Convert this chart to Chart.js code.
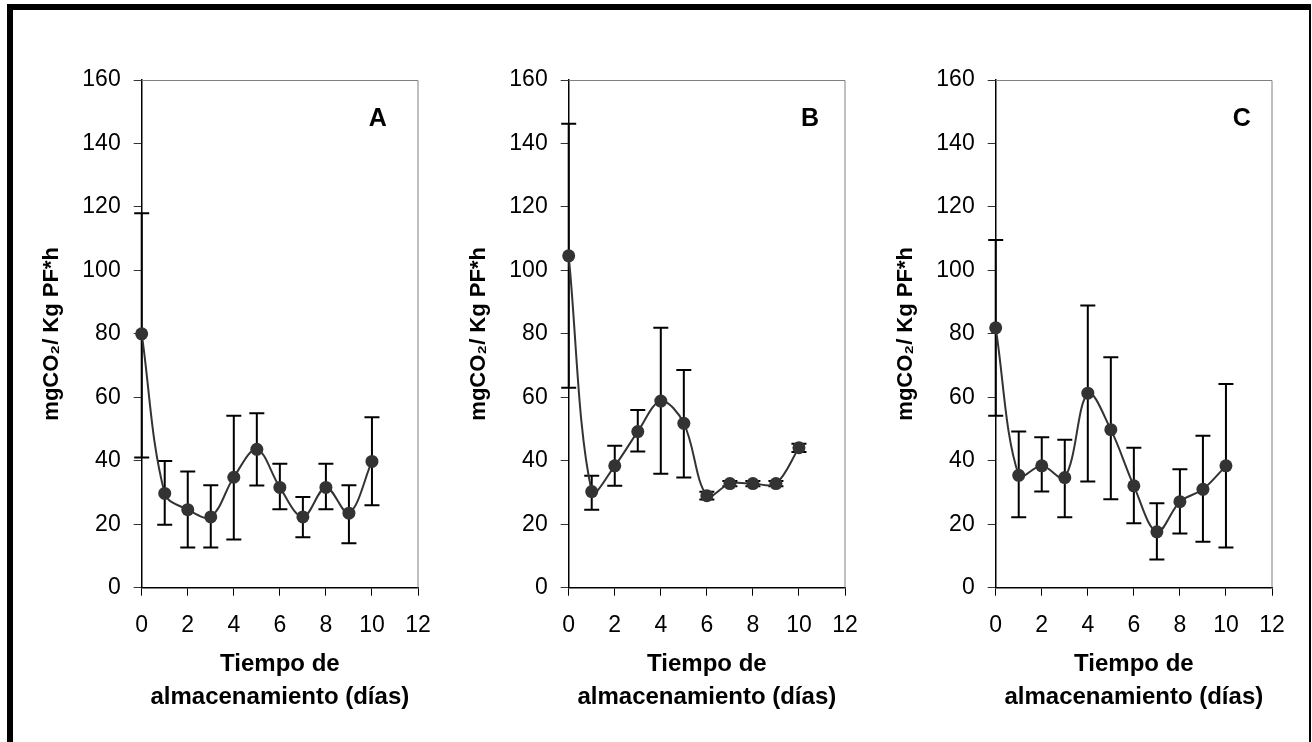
<!DOCTYPE html>
<html>
<head>
<meta charset="utf-8">
<script src="https://cdn.jsdelivr.net/npm/chart.js@4.4.0/dist/chart.umd.min.js"></script>
<style>
  body { margin: 0; background: #fff; }
  #wrap { position: relative; width: 1312px; height: 742px; overflow: hidden; background: #fff; }
  #frame {
    position: absolute; left: 7px; top: 4px; width: 1296px; height: 760px;
    border-left: 6px solid #000; border-top: 6px solid #000; border-right: 2px solid #000;
  }
  canvas { position: absolute; top: 0; }
</style>
</head>
<body>
<div id="wrap">
  <div id="frame"></div>
  <canvas id="chartA" width="440" height="742" style="left:20px"></canvas>
  <canvas id="chartB" width="440" height="742" style="left:447px"></canvas>
  <canvas id="chartC" width="440" height="742" style="left:874px"></canvas>
</div>
<script>
// storage days
const days = [0, 1, 2, 3, 4, 5, 6, 7, 8, 9, 10];

// A
const meanA = [80, 29.7, 24.6, 22.3, 34.8, 43.6, 31.6, 22.3, 31.6, 23.5, 39.8];
const highA = [118, 39.9, 36.6, 32.3, 54.2, 55, 39.1, 28.6, 39.1, 32.3, 53.7];
const lowA = [41, 19.8, 12.7, 12.7, 15.2, 32.2, 24.7, 15.9, 24.7, 14, 26];

// B
const meanB = [104.6, 30.3, 38.4, 49.2, 58.8, 51.8, 29, 32.8, 32.8, 32.8, 44.1];
const highB = [146.2, 35.3, 44.7, 56, 81.9, 68.6, 30.2, 33.6, 33.6, 33.6, 45.4];
const lowB = [63, 24.6, 32.1, 42.9, 35.9, 34.7, 27.8, 32, 32, 32, 42.8];

// C
const meanC = [81.9, 35.4, 38.4, 34.7, 61.3, 49.8, 32.1, 17.6, 27.1, 31, 38.4];
const highC = [109.6, 49.2, 47.4, 46.6, 88.9, 72.6, 44.1, 26.6, 37.3, 47.9, 64.2];
const lowC = [54.2, 22.2, 30.3, 22.2, 33.5, 27.9, 20.3, 8.9, 17.1, 14.5, 12.7];

const xTicks = [0, 2, 4, 6, 8, 10, 12];
const yTitle = "mgCO\u2082/ Kg PF*h";
const xTitle = ["Tiempo de", "almacenamiento (días)"];

// error bars drawn under the points
const errorBars = {
  id: "errorBars",
  beforeDatasetsDraw(chart, args, opts) {
    const { ctx, scales } = chart;
    ctx.save();
    ctx.strokeStyle = "#000";
    ctx.lineWidth = 2;
    opts.x.forEach((d, i) => {
      const px = scales.x.getPixelForValue(d);
      const yHi = scales.y.getPixelForValue(opts.high[i]);
      const yLo = scales.y.getPixelForValue(opts.low[i]);
      ctx.beginPath();
      ctx.moveTo(px, yHi);
      ctx.lineTo(px, yLo);
      ctx.moveTo(px - 7.5, yHi);
      ctx.lineTo(px + 7.5, yHi);
      ctx.moveTo(px - 7.5, yLo);
      ctx.lineTo(px + 7.5, yLo);
      ctx.stroke();
    });
    ctx.restore();
  },
};

// grey top/right frame of the plot area + panel letter
const plotFrame = {
  id: "plotFrame",
  afterDraw(chart, args, opts) {
    const { ctx, chartArea, scales } = chart;
    ctx.save();
    ctx.strokeStyle = "#808080";
    ctx.lineWidth = 1;
    ctx.beginPath();
    ctx.moveTo(chartArea.left, chartArea.top + 0.5);
    ctx.lineTo(chartArea.right, chartArea.top + 0.5);
    ctx.lineTo(chartArea.right, chartArea.bottom);
    ctx.stroke();
    ctx.fillStyle = "#000";
    ctx.font = "bold 25px 'Liberation Sans', Arial, sans-serif";
    ctx.textAlign = "center";
    ctx.textBaseline = "middle";
    ctx.fillText(opts.tag, scales.x.getPixelForValue(opts.tagX), scales.y.getPixelForValue(opts.tagY));
    ctx.restore();
  },
};

function makePanel(id, mean, high, low, tag, tagX) {
  const ctx = document.getElementById(id).getContext("2d");
  new Chart(ctx, {
    type: "line",
    data: {
      datasets: [
        {
          data: days.map((d, i) => ({ x: d, y: mean[i] })),
          borderColor: "#333",
          borderWidth: 2,
          backgroundColor: "#333",
          pointRadius: 6.5,
          pointBackgroundColor: "#333",
          pointBorderColor: "#333",
          pointBorderWidth: 0,
          tension: 0.35,
          clip: false,
        },
      ],
    },
    options: {
      responsive: false,
      animation: false,
      devicePixelRatio: 1,
      layout: {
        padding: { top: 80, right: 42, bottom: 14.3, left: 0 },
      },
      plugins: {
        legend: { display: false },
        tooltip: { enabled: false },
        errorBars: { x: days, high: high, low: low },
        plotFrame: { tag: tag, tagX: tagX, tagY: 147.7 },
      },
      scales: {
        x: {
          type: "linear",
          min: 0,
          max: 12,
          afterBuildTicks: (s) => {
            s.ticks = xTicks.map((v) => ({ value: v }));
          },
          afterFit: (s) => {
            s.height = 140;
          },
          border: { display: true, color: "#000", width: 1.5 },
          grid: { drawOnChartArea: false, drawTicks: true, tickLength: 8, color: "#000" },
          ticks: {
            color: "#000",
            padding: 16,
            maxRotation: 0,
            font: { family: "'Liberation Sans', Arial, sans-serif", size: 23 },
          },
          title: {
            display: true,
            text: xTitle,
            color: "#000",
            padding: { top: 0, bottom: 14 },
            font: { family: "'Liberation Sans', Arial, sans-serif", size: 24, weight: "bold", lineHeight: 1.36 },
          },
        },
        y: {
          min: 0,
          max: 160,
          afterFit: (s) => {
            s.width = 121.7;
          },
          border: { display: true, color: "#000", width: 1.5 },
          grid: { drawOnChartArea: false, drawTicks: true, tickLength: 8, color: "#333" },
          ticks: {
            stepSize: 20,
            color: "#000",
            padding: 13,
            font: { family: "'Liberation Sans', Arial, sans-serif", size: 23 },
          },
          title: {
            display: true,
            text: yTitle,
            color: "#000",
            padding: { top: 18.5, bottom: 0 },
            font: { family: "'Liberation Sans', Arial, sans-serif", size: 22, weight: "bold" },
          },
        },
      },
    },
    plugins: [errorBars, plotFrame],
  });
}

makePanel("chartA", meanA, highA, lowA, "A", 10.25);
makePanel("chartB", meanB, highB, lowB, "B", 10.48);
makePanel("chartC", meanC, highC, lowC, "C", 10.69);
</script>
</body>
</html>
